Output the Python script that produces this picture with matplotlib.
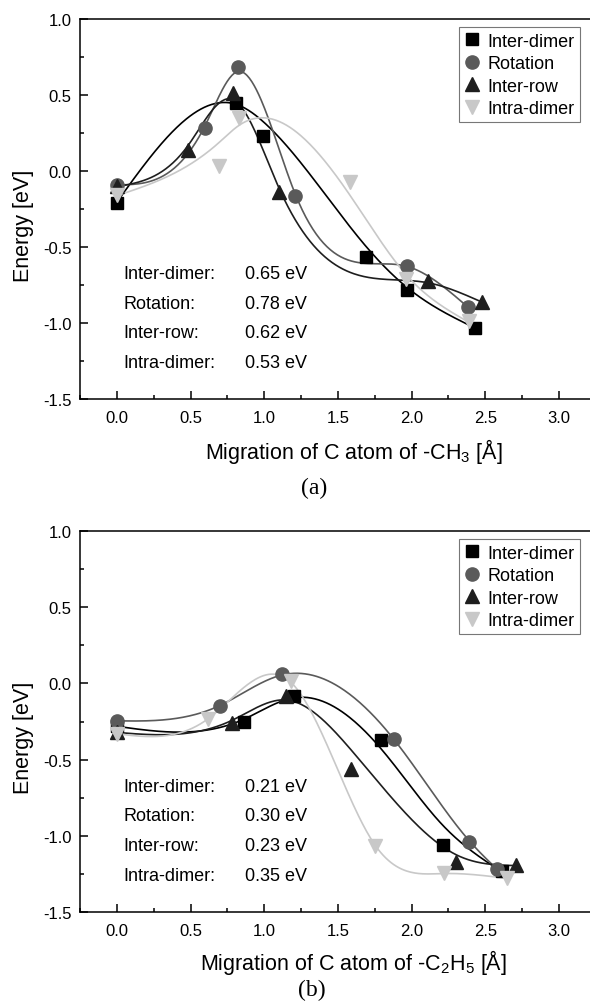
import numpy as np
import matplotlib
matplotlib.use('Agg')
import matplotlib.pyplot as plt
from matplotlib.ticker import MultipleLocator

plt.rcParams['font.family'] = ['Liberation Sans', 'DejaVu Sans']
plt.rcParams['mathtext.fontset'] = 'custom'
plt.rcParams['mathtext.rm'] = 'Liberation Sans'

names = ['Inter-dimer', 'Rotation', 'Inter-row', 'Intra-dimer']

# (a) migration of -CH3
ch3_inter_dimer_x = [0.0, 0.81, 0.99, 1.69, 1.97, 2.43]
ch3_inter_dimer_y = [-0.21, 0.45, 0.23, -0.565, -0.78, -1.03]
ch3_rotation_x = [0.0, 0.60, 0.82, 1.21, 1.97, 2.38]
ch3_rotation_y = [-0.09, 0.28, 0.685, -0.165, -0.625, -0.895]
ch3_inter_row_x = [0.0, 0.48, 0.79, 1.10, 2.11, 2.48]
ch3_inter_row_y = [-0.10, 0.14, 0.51, -0.135, -0.725, -0.865]
ch3_intra_dimer_x = [0.0, 0.69, 0.83, 1.58, 1.96, 2.39]
ch3_intra_dimer_y = [-0.16, 0.03, 0.35, -0.07, -0.71, -0.99]
ch3_barriers = ['0.65 eV', '0.78 eV', '0.62 eV', '0.53 eV']

# (b) migration of -C2H5
c2h5_inter_dimer_x = [0.0, 0.86, 1.20, 1.79, 2.21, 2.61]
c2h5_inter_dimer_y = [-0.28, -0.25, -0.08, -0.37, -1.06, -1.23]
c2h5_rotation_x = [0.0, 0.70, 1.12, 1.88, 2.39, 2.58]
c2h5_rotation_y = [-0.245, -0.15, 0.06, -0.365, -1.04, -1.215]
c2h5_inter_row_x = [0.0, 0.78, 1.15, 1.59, 2.30, 2.71]
c2h5_inter_row_y = [-0.32, -0.26, -0.085, -0.56, -1.17, -1.19]
c2h5_intra_dimer_x = [0.0, 0.62, 1.18, 1.75, 2.22, 2.65]
c2h5_intra_dimer_y = [-0.33, -0.235, 0.015, -1.065, -1.245, -1.28]
c2h5_barriers = ['0.21 eV', '0.30 eV', '0.23 eV', '0.35 eV']

colors = ['#000000', '#5a5a5a', '#1e1e1e', '#c8c8c8']
markers = ['s', 'o', '^', 'v']
msizes = [8.5, 9.5, 10, 10]

# smoothing of the connecting curves (lambda, point weights)
smooth_a = [0.001, 0.00015, 0.0003, 0.001]
weights_a = [[1, 1.5, 0.08, 0.05, 0.3, 1], [1] * 6, [1, 1, 1, 1, 0.3, 1], [1, 0.3, 1, 0.05, 0.5, 1]]
smooth_b = [0.001, 0.0005, 0.001, 0.00015]
weights_b = [[1, 1, 1, 0.1, 0.1, 1], [1] * 6, [1, 1, 1, 0.04, 0.2, 1], [1] * 6]


def smooth_curve(x, y, lam, w, num=300):
    # weighted cubic smoothing spline (Reinsch), natural end conditions
    x = np.asarray(x, float)
    y = np.asarray(y, float)
    winv = np.diag(1 / np.asarray(w, float))
    n = len(x)
    h = np.diff(x)
    Q = np.zeros((n, n - 2))
    R = np.zeros((n - 2, n - 2))
    for j in range(1, n - 1):
        Q[j - 1, j - 1] = 1 / h[j - 1]
        Q[j, j - 1] = -1 / h[j - 1] - 1 / h[j]
        Q[j + 1, j - 1] = 1 / h[j]
        R[j - 1, j - 1] = (h[j - 1] + h[j]) / 3
        if j < n - 2:
            R[j - 1, j] = R[j, j - 1] = h[j] / 6
    gam = np.linalg.solve(R + lam * Q.T @ winv @ Q, Q.T @ y)
    f = y - lam * winv @ Q @ gam
    g2 = np.concatenate([[0], gam, [0]])
    xs = np.linspace(x[0], x[-1], num)
    i = np.clip(np.searchsorted(x, xs) - 1, 0, n - 2)
    t = xs - x[i]
    a = x[i + 1] - xs
    hh = h[i]
    ys = (t * f[i + 1] + a * f[i]) / hh - t * a / 6 * ((1 + t / hh) * g2[i + 1] + (1 + a / hh) * g2[i])
    return xs, ys


def draw_panel(ax, series, barriers, smooth, weights):
    for k, (x, y) in enumerate(series):
        xs, ys = smooth_curve(x, y, smooth[k], weights[k])
        ax.plot(xs, ys, color=colors[k], lw=1.2, zorder=2)
    for k, (x, y) in enumerate(series):
        ax.plot(x, y, ls='none', marker=markers[k], ms=msizes[k], color=colors[k],
                mec=colors[k], label=names[k], zorder=3)

    ax.set_xlim(-0.25, 3.21)
    ax.set_ylim(-1.5, 1.0)
    ax.xaxis.set_major_locator(MultipleLocator(0.5))
    ax.xaxis.set_minor_locator(MultipleLocator(0.25))
    ax.yaxis.set_major_locator(MultipleLocator(0.5))
    ax.yaxis.set_minor_locator(MultipleLocator(0.25))
    ax.xaxis.set_major_formatter(lambda v, p: '%.1f' % v)
    ax.yaxis.set_major_formatter(lambda v, p: '%.1f' % v)
    ax.tick_params(which='both', direction='in', top=False, right=False, labelsize=12, width=1.1)
    ax.tick_params(which='major', length=5.5)
    ax.tick_params(which='minor', length=3)
    ax.tick_params(axis='x', pad=8)
    ax.tick_params(axis='y', pad=6)
    ax.spines['right'].set_visible(False)
    for s in ['left', 'bottom', 'top']:
        ax.spines[s].set_linewidth(1.1)

    leg = ax.legend(loc='upper right', bbox_to_anchor=(0.98, 0.978), frameon=True, fancybox=False,
                    edgecolor='#555555', fontsize=13, handlelength=0.8, handletextpad=0.45,
                    labelspacing=0.3, borderpad=0.3, borderaxespad=0)
    leg.get_frame().set_linewidth(0.8)

    ys_txt = [0.33, 0.252, 0.174, 0.096]
    for k in range(4):
        ax.text(0.085, ys_txt[k], names[k] + ':', transform=ax.transAxes, fontsize=13, va='center')
        ax.text(0.324, ys_txt[k], barriers[k], transform=ax.transAxes, fontsize=13, va='center')


fig = plt.figure(figsize=(5.9, 10.03), dpi=100)
W, H = 590.0, 1003.0
ax1 = fig.add_axes([80 / W, 1 - 400 / H, 1 - 80 / W, 380 / H])
ax2 = fig.add_axes([80 / W, 1 - 913 / H, 1 - 80 / W, 381 / H])

draw_panel(ax1, [(ch3_inter_dimer_x, ch3_inter_dimer_y), (ch3_rotation_x, ch3_rotation_y),
                 (ch3_inter_row_x, ch3_inter_row_y), (ch3_intra_dimer_x, ch3_intra_dimer_y)],
           ch3_barriers, smooth_a, weights_a)
draw_panel(ax2, [(c2h5_inter_dimer_x, c2h5_inter_dimer_y), (c2h5_rotation_x, c2h5_rotation_y),
                 (c2h5_inter_row_x, c2h5_inter_row_y), (c2h5_intra_dimer_x, c2h5_intra_dimer_y)],
           c2h5_barriers, smooth_b, weights_b)

fig.text(23 / W, 1 - 226 / H, 'Energy [eV]', rotation=90, ha='center', va='center', fontsize=15.5)
fig.text(23 / W, 1 - 738 / H, 'Energy [eV]', rotation=90, ha='center', va='center', fontsize=15.5)
fig.text(354 / W, 1 - 452 / H, r'Migration of C atom of -CH$\mathregular{_3}$ [Å]', ha='center', va='center', fontsize=15.5)
fig.text(353 / W, 1 - 963 / H, r'Migration of C atom of -C$\mathregular{_2}$H$\mathregular{_5}$ [Å]', ha='center', va='center', fontsize=15.5)
fig.text(314 / W, 1 - 488 / H, '(a)', ha='center', va='center', fontsize=17, family='Liberation Serif')
fig.text(312 / W, 1 - 990 / H, '(b)', ha='center', va='center', fontsize=17, family='Liberation Serif')

fig.savefig('out.png', dpi=100)
